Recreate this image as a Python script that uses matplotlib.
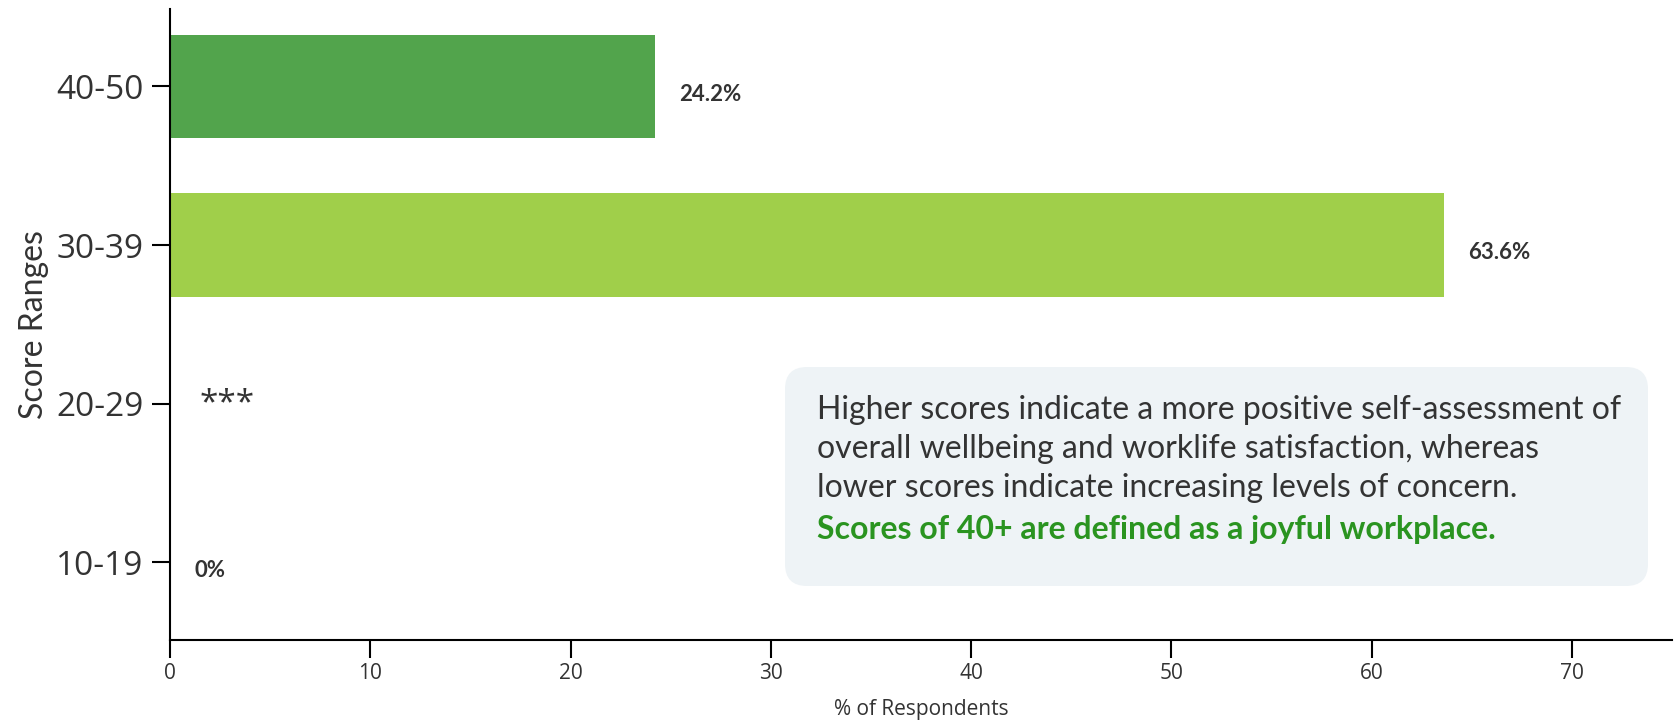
import matplotlib.pyplot as plt
from matplotlib.patches import FancyBboxPatch
from matplotlib.transforms import IdentityTransform

# data
categories = ["10-19", "20-29", "30-39", "40-50"]
values = [0, 0, 63.6, 24.2]
labels = ["0%", "***", "63.6%", "24.2%"]
colors = ["#52A44C", "#52A44C", "#A0CF4A", "#52A44C"]

note_lines = [
    "Higher scores indicate a more positive self-assessment of",
    "overall wellbeing and worklife satisfaction, whereas",
    "lower scores indicate increasing levels of concern.",
]
note_highlight = "Scores of 40+ are defined as a joyful workplace."

TEXT = "#333333"
GREEN_TEXT = "#2A9420"

fig = plt.figure(figsize=(16.78, 7.24), dpi=100)
ax = fig.add_axes([0.1013, 0.116, 0.8951, 0.872])

ypos = list(range(len(categories)))
ax.barh(ypos, values, height=0.65, color=colors)

# value labels
for y, v, lab in zip(ypos, values, labels):
    if lab == "***":
        ax.text(v + 1.5, y, lab, fontsize=24, color=TEXT, va="center",
                family="Open Sans")
    else:
        ax.text(v + 1.2, y - 0.05, lab, fontsize=16, fontweight="bold",
                color=TEXT, va="center", family="Lato")

ax.set_xlim(0, 75)
ax.set_ylim(-0.49, 3.49)
ax.set_yticks(ypos)
ax.set_yticklabels(categories, fontsize=24, color=TEXT, family="Open Sans")
ax.set_xticks(range(0, 71, 10))
ax.tick_params(axis="x", labelsize=15, labelcolor=TEXT, length=13, width=1.5)
ax.tick_params(axis="y", length=13, width=1.5, pad=6)
for t in ax.get_xticklabels():
    t.set_family("Open Sans")

for side in ["top", "right"]:
    ax.spines[side].set_visible(False)
for side in ["left", "bottom"]:
    ax.spines[side].set_linewidth(1.5)

ax.set_ylabel("Score Ranges", fontsize=23, color=TEXT, family="Lato", labelpad=5)
ax.set_xlabel("% of Respondents", fontsize=15, color=TEXT, family="Open Sans",
              labelpad=11)

# annotation box (pixel coords)
box = FancyBboxPatch((785, 138), 863, 219,
                     boxstyle="round,pad=0,rounding_size=22",
                     transform=IdentityTransform(),
                     facecolor="#EEF3F6", edgecolor="none")
fig.patches.append(box)

line_y = [410, 449, 488]
for ly, txt in zip(line_y, note_lines):
    fig.text(817 / 1678, 1 - ly / 724, txt, fontsize=23, color=TEXT,
             family="Lato", va="center")
fig.text(817 / 1678, 1 - 529 / 724, note_highlight, fontsize=23,
         fontweight="bold", color=GREEN_TEXT, family="Lato", va="center")

fig.savefig("out.png", dpi=100)
